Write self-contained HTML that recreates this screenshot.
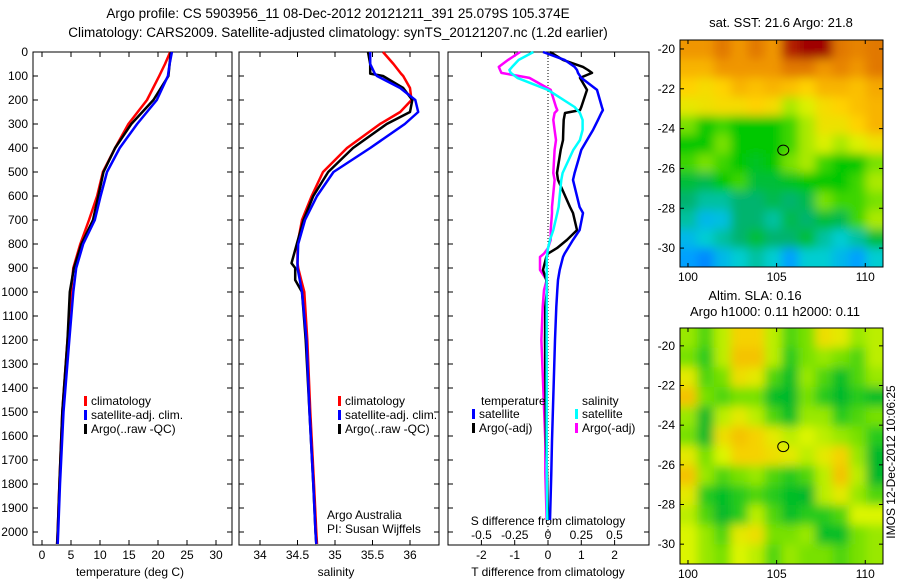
<!DOCTYPE html>
<html><head><meta charset="utf-8"><style>
body{margin:0;background:#fff;}
svg{display:block;font-family:"Liberation Sans",sans-serif;font-size:12px;}
</style></head><body>
<svg id="c" width="900" height="580" viewBox="0 0 900 580">
<text x="338" y="18" text-anchor="middle" style="font-size:13.5px">Argo profile: CS 5903956_11 08-Dec-2012 20121211_391 25.079S 105.374E</text>
<text x="338" y="37" text-anchor="middle" style="font-size:13.5px">Climatology: CARS2009. Satellite-adjusted climatology: synTS_20121207.nc (1.2d earlier)</text>
<g id="g"></g>
</svg>
<script>
// ---- data ----
const tDepth=[0,50,100,200,300,400,500,600,700,800,900,1000,1200,1500,1800,2000,2050];
const tClim=[22.1,21.2,20.2,18.1,14.9,12.6,10.5,9.5,8.1,6.6,5.4,5.0,4.4,3.5,3.0,2.7,2.6];
const tSat=[22.4,22.0,21.7,19.8,16.4,13.4,11.2,10.1,9.1,7.1,5.9,5.4,4.7,3.7,3.1,2.8,2.7];
const tArgo=[22.2,22.0,21.8,19.2,15.4,12.6,10.6,9.7,8.8,6.8,5.5,4.8,4.4,3.5,3.0,2.7,2.6];
const sDepth=[0,50,90,100,150,200,250,300,400,500,600,700,800,880,900,950,1000,1200,1500,1800,2000,2050];
const sClim=[35.64,35.78,35.88,35.91,36.0,36.02,35.87,35.6,35.16,34.84,34.69,34.56,34.5,34.5,34.51,34.55,34.59,34.63,34.67,34.72,34.75,34.76];
const sSat=[35.47,35.47,35.53,35.56,35.87,36.07,36.11,35.93,35.47,34.98,34.76,34.6,34.51,34.5,34.5,34.53,34.56,34.62,34.66,34.71,34.74,34.75];
const sArgo=[35.44,35.47,35.47,35.64,35.91,36.03,36.0,35.69,35.24,34.91,34.71,34.58,34.49,34.42,34.47,34.47,34.56,34.61,34.66,34.71,34.74,34.75];
const dDepth=[0,33,62,75,87,108,158,229,242,254,283,325,367,408,504,533,646,671,742,783,817,840,854,908,950,992,1062,1200,1340,1479,1620,1754,1950];
const dtSat=[-0.15,0.5,0.8,0.87,0.9,1.0,1.47,1.62,1.65,1.6,1.5,1.35,1.17,1.0,0.8,0.75,0.95,1.05,0.95,0.75,0.6,0.5,0.45,0.35,0.3,0.28,0.25,0.21,0.18,0.15,0.12,0.1,0.06];
const dtArgo=[0.06,0.45,1.05,1.2,1.32,0.96,1.17,1.0,0.96,0.51,0.47,0.46,0.45,0.38,0.27,0.3,0.66,0.75,0.87,0.57,0.27,0.0,-0.05,-0.15,-0.05,-0.03,-0.08,-0.09,-0.08,-0.07,-0.06,-0.03,0.0];
const dsSat=[-0.11,-0.22,-0.27,-0.29,-0.28,-0.23,0.0,0.2,0.22,0.24,0.26,0.26,0.24,0.19,0.11,0.1,0.08,0.07,0.04,0.015,0.0,-0.005,-0.01,-0.01,-0.01,-0.01,-0.01,-0.01,-0.01,-0.01,-0.01,-0.01,-0.005];
const dsArgo=[-0.21,-0.3,-0.37,-0.36,-0.35,-0.14,0.02,0.06,0.07,0.05,0.04,0.05,0.06,0.05,0.04,0.05,0.03,0.03,0.02,0.02,0.0,-0.03,-0.06,-0.06,-0.01,-0.03,-0.04,-0.05,-0.04,-0.03,-0.02,-0.02,-0.01];
const depthTicks=[0,100,200,300,400,500,600,700,800,900,1000,1100,1200,1300,1400,1500,1600,1700,1800,1900,2000];
const tTicks=[0,5,10,15,20,25,30];
const sTicks=[34,34.5,35,35.5,36];
const dtTicks=[-2,-1,0,1,2];
const dsTicks=[-0.5,-0.25,0,0.25,0.5];
const mapLon=[100,105,110];
const mapLat=[-20,-22,-24,-26,-28,-30];
const sst=[
[.85,.85,.9,.85,.9,.85,.98,1,1,.9,.88,.9],
[.8,.8,.85,.85,.85,.85,.9,.9,.85,.88,.85,.9],
[.75,.72,.75,.8,.78,.8,.78,.75,.8,.8,.78,.82],
[.68,.7,.72,.72,.75,.72,.6,.65,.72,.75,.78,.8],
[.55,.45,.5,.45,.45,.45,.5,.6,.7,.7,.75,.8],
[.45,.45,.55,.45,.45,.45,.5,.6,.65,.6,.65,.7],
[.5,.55,.5,.45,.42,.45,.55,.6,.5,.45,.45,.55],
[.4,.38,.45,.5,.4,.4,.42,.45,.45,.45,.5,.6],
[.35,.3,.3,.35,.35,.38,.35,.38,.55,.5,.5,.55],
[.3,.2,.22,.35,.35,.3,.38,.35,.4,.38,.5,.6],
[.2,.25,.3,.35,.4,.35,.35,.4,.3,.25,.3,.4],
[.15,.1,.2,.25,.3,.25,.15,.25,.25,.2,.15,.25]];
const sla=[
[.55,.45,.6,.8,.8,.6,.45,.5,.75,.7,.55,.6],
[.5,.4,.6,.85,.85,.6,.4,.5,.55,.5,.45,.6],
[.7,.45,.5,.75,.7,.45,.35,.55,.45,.35,.45,.55],
[.85,.5,.45,.5,.5,.35,.3,.5,.4,.3,.4,.35],
[.55,.3,.6,.7,.6,.45,.35,.55,.55,.4,.45,.5],
[.5,.3,.75,.85,.8,.7,.6,.65,.6,.55,.5,.4],
[.7,.5,.65,.8,.8,.75,.7,.6,.7,.8,.55,.3],
[.85,.55,.45,.5,.55,.45,.4,.45,.6,.85,.6,.3],
[.7,.4,.35,.4,.45,.4,.35,.3,.6,.7,.55,.45],
[.6,.45,.3,.4,.6,.45,.35,.4,.4,.45,.65,.65],
[.65,.55,.45,.7,.75,.5,.5,.55,.35,.35,.5,.55],
[.65,.55,.5,.65,.6,.45,.55,.5,.5,.45,.5,.55]];
const argoPos=[105.374,-25.079];

// ---- drawing ----
const NS="http://www.w3.org/2000/svg",G=document.getElementById('g');
function el(t,a,p){const e=document.createElementNS(NS,t);for(const k in a)e.setAttribute(k,a[k]);(p||G).appendChild(e);return e;}
function txt(x,y,s,anc,extra){const e=el('text',Object.assign({x:x,y:y,'text-anchor':anc||'middle'},extra||{}));e.textContent=s;return e;}
const Y=d=>52+0.24*d;
function panel(x0,x1,name){
  const r=el('rect',{x:x0,y:52,width:x1-x0,height:493,fill:'none',stroke:'#000','stroke-width':1});
  
  
  for(const d of depthTicks){el('line',{x1:x0,x2:x0+5,y1:Y(d),y2:Y(d),stroke:'#000'});el('line',{x1:x1,x2:x1-5,y1:Y(d),y2:Y(d),stroke:'#000'});}
}
function line(xs,ds,X,color,w,name){
  const pts=xs.map((v,i)=>X(v).toFixed(1)+','+Y(ds[i]).toFixed(1)).join(' ');
  const p=el('polyline',{points:pts,fill:'none',stroke:color,'stroke-width':w,'stroke-linejoin':'round'});
  
  
}
// panel 1
const X1=v=>42+5.8*v;
panel(33,232,'temperature-panel');
for(const d of depthTicks){const t=txt(28,Y(d)+4,String(d),'end');}
for(const v of tTicks){el('line',{x1:X1(v),x2:X1(v),y1:52,y2:57,stroke:'#000'});el('line',{x1:X1(v),x2:X1(v),y1:545,y2:540,stroke:'#000'});const t=txt(X1(v),559,String(v));}
const xl1=txt(130,576,'temperature (deg C)');
line(tClim,tDepth,X1,'#f00',2.5,'temp-climatology-line');
line(tArgo,tDepth,X1,'#000',2.5,'temp-argo-line');
line(tSat,tDepth,X1,'#00f',2.5,'temp-satellite-line');
// panel 2
const X2=v=>260+75*(v-34);
panel(239,439,'salinity-panel');
for(const v of sTicks){el('line',{x1:X2(v),x2:X2(v),y1:52,y2:57,stroke:'#000'});el('line',{x1:X2(v),x2:X2(v),y1:545,y2:540,stroke:'#000'});const t=txt(X2(v),559,String(v));}
const xl2=txt(336,576,'salinity');
line(sClim,sDepth,X2,'#f00',2.5,'sal-climatology-line');
line(sArgo,sDepth,X2,'#000',2.5,'sal-argo-line');
line(sSat,sDepth,X2,'#00f',2.5,'sal-satellite-line');
// legends
function legend(x,y,name){
  const items=[['#f00','climatology'],['#00f','satellite-adj. clim.'],['#000','Argo(..raw -QC)']];
  items.forEach((it,i)=>{const r=el('rect',{x:x,y:y+i*14-9,width:3,height:10,fill:it[0]});const t=txt(x+7,y+i*14,it[1],'start');});
}
legend(84,405,'temp-legend');legend(338,405,'sal-legend');
const aa=txt(327,519,'Argo Australia','start');
const pi=txt(327,533,'PI: Susan Wijffels','start');
// panel 3
const X3=v=>548+33.3*v, XS=v=>548+133*v;
panel(448,649,'difference-panel');
el('line',{x1:548,x2:548,y1:52,y2:545,stroke:'#000','stroke-dasharray':'1,2'});
for(const v of dtTicks){el('line',{x1:X3(v),x2:X3(v),y1:52,y2:57,stroke:'#000'});el('line',{x1:X3(v),x2:X3(v),y1:545,y2:540,stroke:'#000'});const t=txt(X3(v),559,String(v));}
for(const v of dsTicks){const t=txt(XS(v),539,String(v));}
const st=txt(548,525,'S difference from climatology');
const tt=txt(548,576,'T difference from climatology');
line(dsArgo,dDepth,XS,'#f0f',2.5,'sal-diff-argo-line');
line(dtArgo,dDepth,X3,'#000',2.5,'temp-diff-argo-line');
line(dsSat,dDepth,XS,'#0ff',2.5,'sal-diff-satellite-line');
line(dtSat,dDepth,X3,'#00f',2.5,'temp-diff-satellite-line');
[[481,405,'temperature',null],[472,418,'satellite','#00f'],[472,432,'Argo(-adj)','#000'],[582,405,'salinity',null],[575,418,'satellite','#0ff'],[575,432,'Argo(-adj)','#f0f']].forEach(a=>{
  if(a[3]){const r=el('rect',{x:a[0],y:a[1]-9,width:3,height:10,fill:a[3]});}
  const t=txt(a[3]?a[0]+7:a[0],a[1],a[2],'start');});
// maps
function interp(stops,v){v=Math.max(0,Math.min(1,v));for(let i=1;i<stops.length;i++){if(v<=stops[i][0]){const a=stops[i-1],b=stops[i],f=(v-a[0])/(b[0]-a[0]);return 'rgb('+[1,2,3].map(k=>Math.round(a[k]+f*(b[k]-a[k]))).join(',')+')';}}return 'rgb('+stops[stops.length-1].slice(1).join(',')+')';}
const jet=[[0,0,90,255],[.15,0,160,255],[.25,0,205,210],[.35,0,180,110],[.45,0,200,0],[.55,120,225,0],[.65,220,240,0],[.75,255,210,0],[.85,240,150,0],[.95,210,90,0],[1,160,0,0]];
const gy=[[0,0,150,60],[.35,0,190,40],[.5,120,225,0],[.65,220,245,0],[.8,245,210,0],[1,240,150,0]];
function map(x0,y0,w,h,grid,cmap,lat0,lat1,name){
  const fid='f'+name;const f=el('filter',{id:fid,x:0,y:0,width:1,height:1});el('feGaussianBlur',{stdDeviation:5},f);
  const cp=el('clipPath',{id:'c'+name});el('rect',{x:x0,y:y0,width:w,height:h},cp);
  const gg=el('g',{'clip-path':'url(#c'+name+')'});
  const g2=el('g',{filter:'url(#'+fid+')'},gg);
  const R=grid.length,C=grid[0].length,cw=w/C,ch=h/R;
  grid.forEach((row,i)=>row.forEach((v,j)=>{const r=el('rect',{x:x0+j*cw-(j==0?20:0),y:y0+i*ch-(i==0?20:0),width:cw+1+(j==0||j==C-1?20:0),height:ch+1+(i==0||i==R-1?20:0),fill:interp(cmap,v)},g2);}));
  const fr=el('rect',{x:x0,y:y0,width:w,height:h,fill:'none',stroke:'#000'});
  const MX=lon=>x0+(lon-99.55)/(111.0-99.55)*w, MY=lat=>y0+(lat-lat0)/(lat1-lat0)*h;
  for(const l of mapLon){el('line',{x1:MX(l),x2:MX(l),y1:y0,y2:y0+4,stroke:'#000'});el('line',{x1:MX(l),x2:MX(l),y1:y0+h,y2:y0+h-4,stroke:'#000'});const t=txt(MX(l),y0+h+14,String(l));}
  for(const l of mapLat){el('line',{x1:x0,x2:x0+4,y1:MY(l),y2:MY(l),stroke:'#000'});el('line',{x1:x0+w,x2:x0+w-4,y1:MY(l),y2:MY(l),stroke:'#000'});const t=txt(x0-5,MY(l)+4,String(l),'end');}
  const c=el('ellipse',{cx:MX(argoPos[0]),cy:MY(argoPos[1]),rx:5.5,ry:5,fill:'none',stroke:'#000','stroke-width':1});
}
map(680,40,203,227,sst,jet,-19.55,-30.95,'sst-map');
map(680,328,203,236,sla,gy,-19.1,-31.0,'sla-map');
const m1=txt(781,27,'sat. SST: 21.6 Argo: 21.8','middle',{style:'font-size:13px'});
const m2=txt(755,300,'Altim. SLA: 0.16','middle',{style:'font-size:13px'});
const m3=txt(775,316,'Argo h1000: 0.11 h2000: 0.11','middle',{style:'font-size:13px'});
const ts=txt(0,0,'IMOS 12-Dec-2012 10:06:25','middle',{transform:'translate(895,462) rotate(-90)'});
</script>
</body></html>
